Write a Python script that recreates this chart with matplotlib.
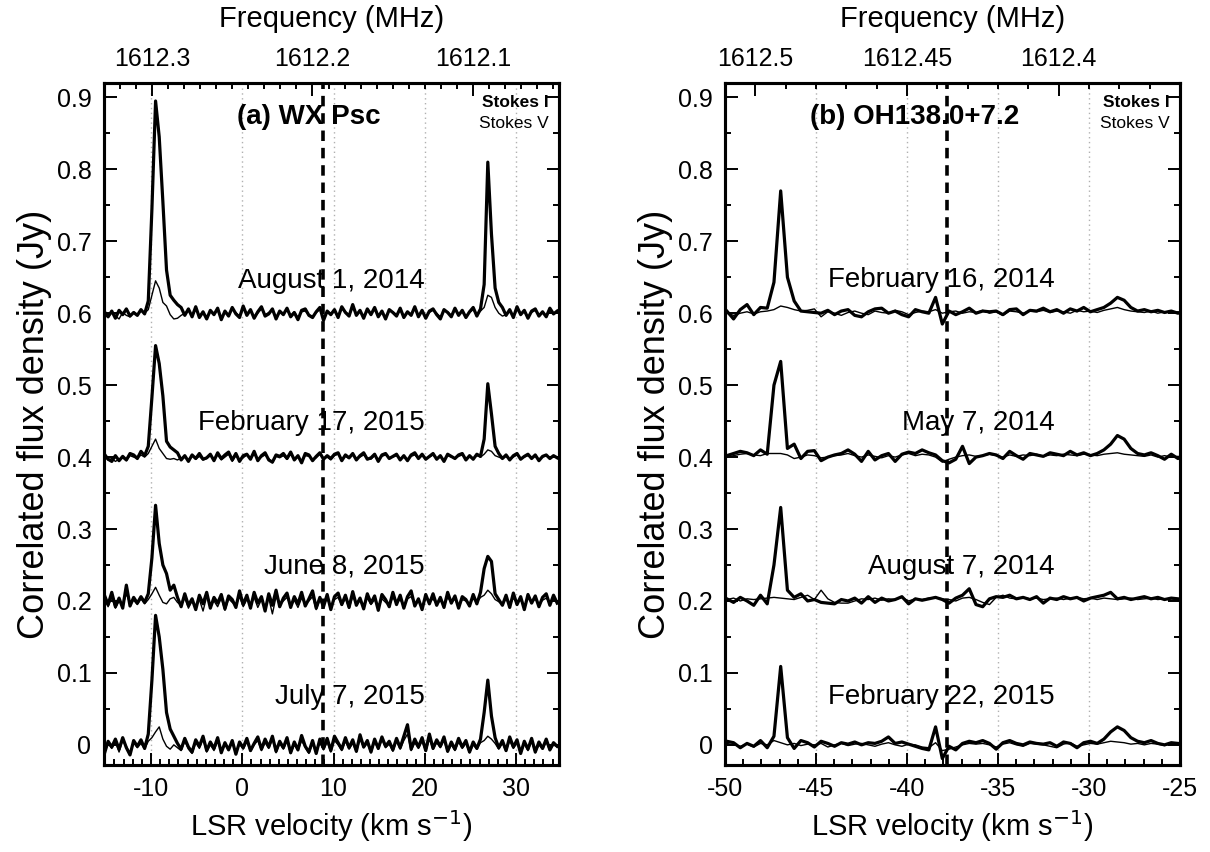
import numpy as np
import matplotlib
matplotlib.use("Agg")
import matplotlib.pyplot as plt
from matplotlib.ticker import MultipleLocator

plt.rcParams['font.family'] = ['Liberation Sans', 'DejaVu Sans']

# ---------------- data (residuals in mJy relative to each epoch's offset) ----------
V_L0, DV_L = -15.1, 0.4      # WX Psc channel grid (km/s)
V_R0, DV_R = -49.9, 0.37     # OH138.0+7.2 channel grid (km/s)

dates_a = ["August 1, 2014", "February 17, 2015", "June 8, 2015", "July 7, 2015"]
offsets_a = [0.6, 0.4, 0.2, 0.0]
date_y_a = [0.6345, 0.438, 0.238, 0.0563]

dates_b = ["February 16, 2014", "May 7, 2014", "August 7, 2014", "February 22, 2015"]
offsets_b = [0.6, 0.4, 0.2, 0.0]
date_y_b = [0.636, 0.437, 0.238, 0.0563]

a_I_aug14 = """2 -5 3 -7 4 -2 6 -4 1 -3
5 -1 17 145 295 245 155 60 25 18
12 8 -3 6 -5 9 -6 2 -8 4
-2 7 -9 3 -4 8 -1 -6 10 -3
5 -7 2 9 -4 -1 6 -8 3 -2
7 -5 1 -9 4 6 -3 -6 2 8
-10 3 -2 5 -6 9 1 -4 12 -3
4 -7 6 -2 8 -5 3 -8 5 1
-4 7 -6 2 -3 9 -5 4 -7 3
6 -2 -8 5 1 -5 7 -3 4 -6
2 8 -4 6 40 210 110 35 15 8
-3 5 -6 9 -2 4 -7 3 6 -4
2 -5 7 -1 3"""
a_V_aug14 = """-1 -6 2 -4 -8 1 -3 -5 2 -2
3 0 5 25 45 35 15 10 -2 -8
-7 -3 0 4 -4 6 -3 1 -5 2
0 4 -6 2 -2 5 1 -4 6 -1
3 -5 0 6 -2 1 4 -5 1 0
4 -3 2 -6 2 3 -2 -4 1 5
-6 1 0 3 -4 6 2 -2 7 -1
2 -4 3 0 5 -3 1 -5 3 2
-2 4 -4 1 -1 6 -3 2 -4 1
4 0 -5 3 2 -3 4 -1 2 -4
1 5 -2 3 8 25 22 8 0 -4
-2 3 -4 5 -1 2 -5 1 4 -2
1 -3 4 0 2"""
a_I_feb15 = """4 -3 -6 2 -5 1 -4 5 3 -2
8 2 15 83 155 130 85 22 14 10
6 -4 2 -6 3 -2 5 -3 -1 4
-5 6 -2 3 7 -4 5 -6 2 4
-3 8 -5 2 6 -4 -7 3 1 5
-2 7 -4 2 -8 5 3 -5 1 6
-3 2 -2 4 6 -5 3 -1 5 -4
2 6 -3 -1 4 -6 3 5 -2 1
4 -4 2 -5 3 6 -2 4 -3 1
5 -3 2 -6 4 1 -2 3 5 -4
2 -3 4 1 25 102 60 15 5 -2
3 -4 2 5 -3 1 4 -2 3 -5
1 3 -2 2 -1"""
a_V_feb15 = """1 -4 -2 -6 -3 -1 -5 2 0 -2
3 0 5 15 25 12 5 -2 -3 -2
-4 -1 0 -5 2 -3 1 -4 -2 2
-3 3 -4 0 4 -6 2 -3 -1 3
-2 4 -3 0 3 -2 -8 1 -1 2
-3 4 -2 0 -6 2 1 -3 -1 4
-2 0 -4 2 4 -3 1 -2 3 -2
0 3 -2 -3 2 -4 1 3 -1 0
2 -3 0 -4 1 3 -2 2 -1 0
3 -2 0 -4 2 0 -1 1 3 -2
0 -2 2 0 4 10 8 2 0 -2
1 -3 0 3 -2 0 2 -1 1 -3
0 2 -1 1 0"""
a_I_jun15 = """8 -5 12 -8 4 -10 22 -7 5 -3
6 -2 10 60 133 80 50 38 15 22
5 -8 10 -6 3 -12 8 -4 12 -10
5 -3 9 -11 7 2 -9 14 -5 8
-10 12 -3 6 -14 10 -6 15 -8 4
11 -9 6 -4 12 -7 3 14 -10 5
-8 9 -12 6 11 -5 8 -9 13 -6
4 -11 10 -3 7 -13 9 2 -8 12
-5 8 -10 6 14 -7 3 -12 9 -4
10 -6 5 -9 12 -3 7 -10 6 2
-7 9 -4 12 45 62 55 10 2 -6
8 -9 11 -5 6 -12 9 -3 7 -8
5 10 -6 8 -3"""
a_V_jun15 = """2 -8 5 -10 0 -6 10 -4 1 -5
3 -4 2 10 19 8 -2 -4 3 5
-2 -6 4 -10 0 -8 2 -14 6 -5
0 -8 4 -13 3 -2 -6 6 -8 2
-6 5 -9 2 -8 4 -18 6 -5 0
5 -7 1 -9 4 -4 0 6 -12 2
-5 3 -8 2 5 -6 4 -10 6 -3
0 -8 4 -5 2 -10 3 -2 -6 5
-3 2 -7 3 6 -4 0 -9 4 -2
3 -5 1 -7 5 -2 3 -8 2 0
-4 3 -2 5 8 15 10 2 -1 -5
3 -6 4 -3 2 -8 5 -2 3 -5
1 4 -3 3 -1"""
a_I_jul15 = """-12 5 -3 8 -6 10 -4 -14 6 -2
7 -5 15 90 180 150 105 45 22 12
2 -6 9 -3 -10 7 -2 12 -8 4
-5 10 -11 3 -7 6 -13 4 -4 9
-8 2 11 -6 8 -3 12 -9 5 -4
10 -11 4 -7 13 -2 -10 6 -12 8
-5 9 -8 12 3 -6 10 -4 7 -9
14 -3 6 -10 8 -5 11 -2 5 -7
9 -4 12 28 -6 8 -3 10 -8 15
-5 7 -2 11 -9 4 -6 9 -3 6
-10 4 -5 8 45 90 40 10 -4 6
-8 11 -3 7 -12 5 -6 9 -10 4
-5 8 -7 3 -2"""
a_V_jul15 = """-8 2 -5 4 -10 6 -2 -12 3 -4
2 -6 5 10 18 25 8 -2 -6 0
-4 -8 5 -6 -12 3 -5 8 -10 0
-8 5 -9 0 -6 3 -10 1 -6 4
-9 0 6 -8 3 -5 8 -11 2 -6
5 -12 0 -8 6 -4 -12 2 -10 3
-7 4 -10 6 0 -8 5 -6 2 -10
8 -4 2 -11 4 -6 7 -4 1 -9
5 -6 6 15 -8 3 -5 5 -9 8
-6 3 -4 6 -10 0 -8 4 -5 2
-11 0 -6 3 6 12 8 2 -6 2
-9 6 -5 3 -12 1 -8 5 -11 0
-6 4 -8 0 -3"""

b_I_feb14 = """3 -8 5 12 -2 8 7 43 170 50
17 3 2 1 0 4 -2 3 5 -3
-5 2 6 7 0 3 -2 -5 5 2
0 22 -15 3 -2 2 7 0 3 2
3 -2 5 6 -2 4 3 7 2 5
0 6 3 8 2 5 8 14 22 18
8 3 5 2 4 1 3 0 2"""
b_V_feb14 = """0 -3 0 2 -1 2 3 5 10 8
5 3 4 6 -5 2 0 -3 1 3
0 -2 3 1 0 4 2 -2 1 3
2 5 0 2 3 0 2 1 4 0
2 -3 3 2 0 3 2 4 1 3
2 0 4 2 3 1 4 6 8 5
3 2 1 3 0 2 1 2 0"""
b_I_may14 = """2 5 8 6 2 10 4 100 133 12
18 -2 8 9 -5 0 3 5 10 4
-6 8 -4 2 5 -6 4 7 5 10
6 3 -5 -8 -3 15 -9 0 2 5
3 -2 8 2 -3 5 3 1 6 4
2 8 3 6 2 5 10 18 30 25
12 5 3 6 2 -3 4 -2 3"""
b_V_may14 = """0 2 4 5 3 2 5 5 5 3
-2 0 3 2 -1 0 2 3 5 2
0 3 1 -1 2 0 3 5 2 4
3 0 -7 -3 0 2 3 1 2 4
2 0 3 1 3 2 4 1 3 2
4 3 2 4 3 2 4 5 6 4
3 2 1 3 0 2 0 1 0"""
b_I_aug14 = """3 -2 5 0 -6 8 -4 50 130 15
5 10 0 2 -2 -3 -4 2 0 4
-3 6 -2 4 0 2 6 -4 3 1
3 5 2 -3 4 8 17 -5 -8 3
6 5 8 3 5 2 6 -3 4 2
6 3 5 0 4 6 8 12 3 5
2 4 6 3 5 2 4 3 2"""
b_V_aug14 = """2 4 0 3 2 3 4 5 4 3
2 5 8 2 15 3 -2 -3 -3 0
3 2 4 1 3 2 5 0 3 2
4 5 3 2 0 4 5 2 -2 -5
5 8 4 3 5 3 4 2 3 4
2 4 5 3 4 2 4 3 2 3
4 2 3 4 2 3 1 2 1"""
b_I_feb15 = """5 3 -4 2 -2 6 -4 12 109 10
-5 6 3 -3 5 2 -2 3 1 4
0 3 2 5 11 2 4 1 -2 -5
-7 25 -19 -2 -7 2 5 3 6 2
-6 3 6 2 0 4 2 1 3 -2
4 2 -4 3 5 2 8 18 25 20
10 5 3 6 2 0 3 2 1"""
b_V_feb15 = """2 0 -2 1 -3 2 0 6 3 0
2 -1 1 0 2 -3 0 2 -1 1
2 0 -2 1 3 0 -2 1 0 -3
-4 3 -8 -6 -3 0 2 1 2 0
-3 1 3 0 -2 2 1 0 -2 -4
1 3 -2 0 2 1 3 5 4 3
1 2 0 2 1 -1 1 0 0"""

I_a = [a_I_aug14, a_I_feb15, a_I_jun15, a_I_jul15]
V_a = [a_V_aug14, a_V_feb15, a_V_jun15, a_V_jul15]
I_b = [b_I_feb14, b_I_may14, b_I_aug14, b_I_feb15]
V_b = [b_V_feb14, b_V_may14, b_V_aug14, b_V_feb15]

sys_vel_a = 8.8
sys_vel_b = -37.8

freq_major_a = [1612.3, 1612.2, 1612.1]
freq_major_b = [1612.5, 1612.45, 1612.4]

C_KMS = 299792.458
F_REST = 1612.231
V_SHIFT = 0.35


def mjy(s):
    return np.array(s.split(), dtype=float) / 1000.0


def f2v(f):
    return C_KMS * (1.0 - np.asarray(f, dtype=float) / F_REST) + V_SHIFT


# ---------------- figure ----------------
fig = plt.figure(figsize=(12.1, 8.52), dpi=100)
W, H = 1210.0, 852.0
axA = fig.add_axes([104 / W, (H - 765) / H, 455 / W, 682 / H])
axB = fig.add_axes([725 / W, (H - 765) / H, 455 / W, 682 / H])

TICK_FS = 18
LABEL_FS = 21


def draw_panel(ax, v0, dv, Is, Vs, offs, dates, date_y, date_x, xlim,
               xmajor, sysv, fmajor, fminor, title, title_x):
    for s_i, s_v, off in zip(Is, Vs, offs):
        yi = mjy(s_i) + off
        yv = mjy(s_v) + off
        vi = v0 + dv * np.arange(len(yi))
        vv = v0 + dv * np.arange(len(yv))
        ax.plot(vv, yv, color='black', lw=1.0, zorder=3)
        ax.plot(vi, yi, color='black', lw=2.3, zorder=4)
    ax.set_xlim(*xlim)
    ax.set_ylim(-0.028, 0.92)
    ax.axvline(sysv, color='black', lw=2.6, linestyle=(0, (2.9, 1.9)), zorder=5)
    ax.xaxis.set_major_locator(MultipleLocator(xmajor))
    ax.xaxis.set_minor_locator(MultipleLocator(1))
    ax.yaxis.set_minor_locator(MultipleLocator(0.05))
    ax.grid(axis='x', which='major', color='#b0b0b0', linestyle=(0, (1, 2.5)), lw=1.0)
    ax.tick_params(axis='both', which='both', direction='in', width=1.4,
                   labelsize=TICK_FS, top=False, right=True)
    ax.tick_params(axis='both', which='major', length=9, pad=9)
    ax.tick_params(axis='both', which='minor', length=4.5)
    yt = np.round(np.arange(0, 0.91, 0.1), 1)
    ax.set_yticks(yt)
    ax.set_yticklabels(['0' if t == 0 else f'{t:.1f}' for t in yt])
    xt = ax.get_xticks()
    ax.set_xticklabels(['%d' % t for t in xt])
    for sp in ax.spines.values():
        sp.set_linewidth(2.2)
    ax.set_xlabel('LSR velocity (km s$^{-1}$)', fontsize=LABEL_FS, labelpad=5)
    ax.set_ylabel('Correlated flux density (Jy)', fontsize=26, labelpad=3)
    for d, y in zip(dates, date_y):
        ax.text(date_x, y, d, fontsize=20, ha='right', va='baseline', zorder=6)
    ax.text(title_x, 0.863, title, transform=ax.get_yaxis_transform(),
            fontsize=20, fontweight='bold', ha='left', va='baseline', zorder=6)
    ax.text(0.978, 0.893, 'Stokes I', transform=ax.get_yaxis_transform(),
            fontsize=12.5, fontweight='bold', ha='right', va='center', zorder=6)
    ax.text(0.978, 0.864, 'Stokes V', transform=ax.get_yaxis_transform(),
            fontsize=12.5, ha='right', va='center', zorder=6)

    top = ax.twiny()
    top.set_xlim(ax.get_xlim())
    top.set_xticks(f2v(fmajor))
    top.set_xticklabels([('%g' % f) for f in fmajor])
    top.set_xticks(f2v(fminor), minor=True)
    top.tick_params(axis='x', which='both', direction='in', width=1.4,
                    labelsize=TICK_FS)
    top.tick_params(axis='x', which='major', length=9, pad=9)
    top.tick_params(axis='x', which='minor', length=4.5)
    top.set_xlabel('Frequency (MHz)', fontsize=LABEL_FS, labelpad=14)
    for sp in top.spines.values():
        sp.set_linewidth(2.2)


fminor_a = np.round(np.arange(1612.05, 1612.335, 0.01), 3)
fminor_b = np.round(np.arange(1612.36, 1612.515, 0.01), 3)

draw_panel(axA, V_L0, DV_L, I_a, V_a, offsets_a, dates_a, date_y_a, 20.0,
           (-15.15, 34.7), 10, sys_vel_a, freq_major_a, fminor_a,
           '(a) WX Psc', 0.292)
draw_panel(axB, V_R0, DV_R, I_b, V_b, offsets_b, dates_b, date_y_b, -31.9,
           (-50, -25), 5, sys_vel_b, freq_major_b, fminor_b,
           '(b) OH138.0+7.2', 0.187)

fig.savefig('out.png', dpi=100)
